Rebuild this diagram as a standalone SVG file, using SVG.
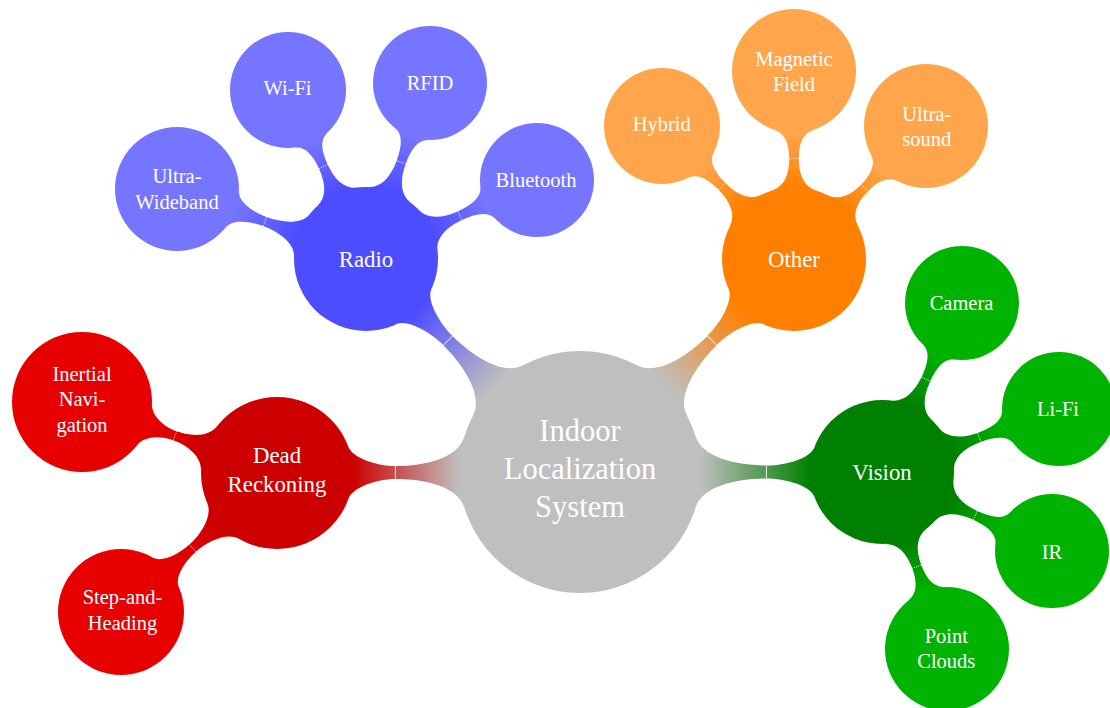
<svg xmlns="http://www.w3.org/2000/svg" width="1110" height="708" viewBox="0 0 1110 708">
<style>
text{font-family:"Liberation Serif","Times New Roman",serif;fill:#fff;text-anchor:middle}
.t0{font-size:30.5px}
.t1{font-size:22.8px}
.t2{font-size:20.5px}
.tk1{stroke:#fff;stroke-width:0.9;fill:none}
.tk2{stroke:#fff;stroke-width:0.7;fill:none;stroke-dasharray:1.3 0.9}
.root{fill:#bfbfbf}
.radio{fill:#4d4dff}.radioL{fill:#7575ff}
.other{fill:#ff8000}.otherL{fill:#ffa64d}
.vision{fill:#008000}.visionL{fill:#00b300}
.dr{fill:#cc0000}.drL{fill:#e60000}
</style>
<defs>
<linearGradient id="g1" gradientUnits="userSpaceOnUse" x1="121" y1="0" x2="229.9" y2="0"><stop offset="0" stop-color="#bfbfbf"/><stop offset="1" stop-color="#4d4dff"/></linearGradient>
<linearGradient id="g2" gradientUnits="userSpaceOnUse" x1="121" y1="0" x2="229.9" y2="0"><stop offset="0" stop-color="#bfbfbf"/><stop offset="1" stop-color="#ff8000"/></linearGradient>
<linearGradient id="g3" gradientUnits="userSpaceOnUse" x1="121" y1="0" x2="227" y2="0"><stop offset="0" stop-color="#bfbfbf"/><stop offset="1" stop-color="#cc0000"/></linearGradient>
<linearGradient id="g4" gradientUnits="userSpaceOnUse" x1="121" y1="0" x2="230" y2="0"><stop offset="0" stop-color="#bfbfbf"/><stop offset="1" stop-color="#008000"/></linearGradient>
<linearGradient id="g5" gradientUnits="userSpaceOnUse" x1="72" y1="0" x2="139.5" y2="0"><stop offset="0" stop-color="#4d4dff"/><stop offset="1" stop-color="#7575ff"/></linearGradient>
<linearGradient id="g6" gradientUnits="userSpaceOnUse" x1="72" y1="0" x2="128.1" y2="0"><stop offset="0" stop-color="#4d4dff"/><stop offset="1" stop-color="#7575ff"/></linearGradient>
<linearGradient id="g7" gradientUnits="userSpaceOnUse" x1="72" y1="0" x2="130.3" y2="0"><stop offset="0" stop-color="#4d4dff"/><stop offset="1" stop-color="#7575ff"/></linearGradient>
<linearGradient id="g8" gradientUnits="userSpaceOnUse" x1="72" y1="0" x2="131.4" y2="0"><stop offset="0" stop-color="#4d4dff"/><stop offset="1" stop-color="#7575ff"/></linearGradient>
<linearGradient id="g9" gradientUnits="userSpaceOnUse" x1="72" y1="0" x2="129.4" y2="0"><stop offset="0" stop-color="#ff8000"/><stop offset="1" stop-color="#ffa64d"/></linearGradient>
<linearGradient id="g10" gradientUnits="userSpaceOnUse" x1="72" y1="0" x2="126" y2="0"><stop offset="0" stop-color="#ff8000"/><stop offset="1" stop-color="#ffa64d"/></linearGradient>
<linearGradient id="g11" gradientUnits="userSpaceOnUse" x1="72" y1="0" x2="125.4" y2="0"><stop offset="0" stop-color="#ff8000"/><stop offset="1" stop-color="#ffa64d"/></linearGradient>
<linearGradient id="g12" gradientUnits="userSpaceOnUse" x1="72" y1="0" x2="130" y2="0"><stop offset="0" stop-color="#008000"/><stop offset="1" stop-color="#00b300"/></linearGradient>
<linearGradient id="g13" gradientUnits="userSpaceOnUse" x1="72" y1="0" x2="130.9" y2="0"><stop offset="0" stop-color="#008000"/><stop offset="1" stop-color="#00b300"/></linearGradient>
<linearGradient id="g14" gradientUnits="userSpaceOnUse" x1="72" y1="0" x2="130.5" y2="0"><stop offset="0" stop-color="#008000"/><stop offset="1" stop-color="#00b300"/></linearGradient>
<linearGradient id="g15" gradientUnits="userSpaceOnUse" x1="72" y1="0" x2="126.6" y2="0"><stop offset="0" stop-color="#008000"/><stop offset="1" stop-color="#00b300"/></linearGradient>
<linearGradient id="g16" gradientUnits="userSpaceOnUse" x1="76" y1="0" x2="137.5" y2="0"><stop offset="0" stop-color="#cc0000"/><stop offset="1" stop-color="#e60000"/></linearGradient>
<linearGradient id="g17" gradientUnits="userSpaceOnUse" x1="76" y1="0" x2="145.9" y2="0"><stop offset="0" stop-color="#cc0000"/><stop offset="1" stop-color="#e60000"/></linearGradient>
</defs>
<rect width="1110" height="708" fill="#fff"/>
<g id="connectors">
<g transform="translate(580 472) rotate(-135.13)"><path fill="url(#g1)" d="M115.7 35.4C122.1 14.4 156.3 6.5 186.3 6.5C204.3 6.5 230.1 13.3 234.2 24.6L234.2 -24.6C230.1 -13.3 204.3 -6.5 186.3 -6.5C156.3 -6.5 122.1 -14.4 115.7 -35.4Z"/><path class="tk1" d="M186.3 -6.5V6.5"/></g>
<g transform="translate(580 472) rotate(-44.87)"><path fill="url(#g2)" d="M115.7 35.4C122.1 14.4 156.3 6.5 186.3 6.5C204.3 6.5 230.1 13.3 234.2 24.6L234.2 -24.6C230.1 -13.3 204.3 -6.5 186.3 -6.5C156.3 -6.5 122.1 -14.4 115.7 -35.4Z"/><path class="tk1" d="M186.3 -6.5V6.5"/></g>
<g transform="translate(580 472) rotate(179.81)"><path fill="url(#g3)" d="M115.7 35.4C122.1 14.4 154.6 6.5 184.6 6.5C202.6 6.5 227.5 14.7 231.6 26L231.6 -26C227.5 -14.7 202.6 -6.5 184.6 -6.5C154.6 -6.5 122.1 -14.4 115.7 -35.4Z"/><path class="tk1" d="M184.6 -6.5V6.5"/></g>
<g transform="translate(580 472)"><path fill="url(#g4)" d="M115.7 35.4C122.1 14.4 156.4 6.5 186.4 6.5C204.4 6.5 230.2 13.3 234.3 24.6L234.3 -24.6C230.2 -13.3 204.4 -6.5 186.4 -6.5C156.4 -6.5 122.1 -14.4 115.7 -35.4Z"/><path class="tk1" d="M186.4 -6.5V6.5"/></g>
<g transform="translate(366 259) rotate(-159.68)"><path fill="url(#g5)" d="M68.5 22.2C72.2 10.8 89.8 4.8 107.8 4.8C123.8 4.8 139.4 9.7 142.5 19.2L142.5 -19.2C139.4 -9.7 123.8 -4.8 107.8 -4.8C89.8 -4.8 72.2 -10.8 68.5 -22.2Z"/><path class="tk2" d="M107.8 -4.8V4.8"/></g>
<g transform="translate(366 259) rotate(-114.78)"><path fill="url(#g6)" d="M68.5 22.2C72.2 10.8 83.7 4.8 101.7 4.8C117.7 4.8 127.8 8.4 130.9 17.9L130.9 -17.9C127.8 -8.4 117.7 -4.8 101.7 -4.8C83.7 -4.8 72.2 -10.8 68.5 -22.2Z"/><path class="tk2" d="M101.7 -4.8V4.8"/></g>
<g transform="translate(366 259) rotate(-70.02)"><path fill="url(#g7)" d="M68.5 22.2C72.2 10.8 84.9 4.8 102.9 4.8C118.9 4.8 130 8.1 133.1 17.6L133.1 -17.6C130 -8.1 118.9 -4.8 102.9 -4.8C84.9 -4.8 72.2 -10.8 68.5 -22.2Z"/><path class="tk2" d="M102.9 -4.8V4.8"/></g>
<g transform="translate(366 259) rotate(-24.79)"><path fill="url(#g8)" d="M68.5 22.2C72.2 10.8 85.5 4.8 103.5 4.8C119.5 4.8 131.1 8.1 134.2 17.6L134.2 -17.6C131.1 -8.1 119.5 -4.8 103.5 -4.8C85.5 -4.8 72.2 -10.8 68.5 -22.2Z"/><path class="tk2" d="M103.5 -4.8V4.8"/></g>
<g transform="translate(794 259) rotate(-134.78)"><path fill="url(#g9)" d="M68.5 22.2C72.2 10.8 84.4 4.8 102.4 4.8C118.4 4.8 129.1 8.4 132.2 17.9L132.2 -17.9C129.1 -8.4 118.4 -4.8 102.4 -4.8C84.4 -4.8 72.2 -10.8 68.5 -22.2Z"/><path class="tk2" d="M102.4 -4.8V4.8"/></g>
<g transform="translate(794 259) rotate(-90)"><path fill="url(#g10)" d="M68.5 22.2C72.2 10.8 82.6 4.8 100.6 4.8C116.6 4.8 125.9 9.7 129 19.2L129 -19.2C125.9 -9.7 116.6 -4.8 100.6 -4.8C82.6 -4.8 72.2 -10.8 68.5 -22.2Z"/><path class="tk2" d="M100.6 -4.8V4.8"/></g>
<g transform="translate(794 259) rotate(-45.22)"><path fill="url(#g11)" d="M68.5 22.2C72.2 10.8 82.3 4.8 100.3 4.8C116.3 4.8 125.3 9.7 128.4 19.2L128.4 -19.2C125.3 -9.7 116.3 -4.8 100.3 -4.8C82.3 -4.8 72.2 -10.8 68.5 -22.2Z"/><path class="tk2" d="M100.3 -4.8V4.8"/></g>
<g transform="translate(882 472) rotate(-64.67)"><path fill="url(#g12)" d="M68.5 22.2C72.2 10.8 84.7 4.8 102.7 4.8C118.7 4.8 129.7 8.1 132.8 17.6L132.8 -17.6C129.7 -8.1 118.7 -4.8 102.7 -4.8C84.7 -4.8 72.2 -10.8 68.5 -22.2Z"/><path class="tk2" d="M102.7 -4.8V4.8"/></g>
<g transform="translate(882 472) rotate(-19.59)"><path fill="url(#g13)" d="M68.5 22.2C72.2 10.8 85.2 4.8 103.2 4.8C119.2 4.8 130.6 8.1 133.7 17.6L133.7 -17.6C130.6 -8.1 119.2 -4.8 103.2 -4.8C85.2 -4.8 72.2 -10.8 68.5 -22.2Z"/><path class="tk2" d="M103.2 -4.8V4.8"/></g>
<g transform="translate(882 472) rotate(24.92)"><path fill="url(#g14)" d="M68.5 22.2C72.2 10.8 85 4.8 103 4.8C119 4.8 130.2 8.1 133.3 17.6L133.3 -17.6C130.2 -8.1 119 -4.8 103 -4.8C85 -4.8 72.2 -10.8 68.5 -22.2Z"/><path class="tk2" d="M103 -4.8V4.8"/></g>
<g transform="translate(882 472) rotate(69.83)"><path fill="url(#g15)" d="M68.5 22.2C72.2 10.8 82.9 4.8 100.9 4.8C116.9 4.8 126.5 9.7 129.6 19.2L129.6 -19.2C126.5 -9.7 116.9 -4.8 100.9 -4.8C82.9 -4.8 72.2 -10.8 68.5 -22.2Z"/><path class="tk2" d="M100.9 -4.8V4.8"/></g>
<g transform="translate(277 473) rotate(-159.99)"><path fill="url(#g16)" d="M72.3 23.5C76 12.1 90.6 4.8 108.6 4.8C124.6 4.8 137.8 12.1 140.9 21.6L140.9 -21.6C137.8 -12.1 124.6 -4.8 108.6 -4.8C90.6 -4.8 76 -12.1 72.3 -23.5Z"/><path class="tk2" d="M108.6 -4.8V4.8"/></g>
<g transform="translate(277 473) rotate(138.3)"><path fill="url(#g17)" d="M72.3 23.5C76 12.1 95 4.8 113 4.8C129 4.8 145.9 10 149 19.5L149 -19.5C145.9 -10 129 -4.8 113 -4.8C95 -4.8 76 -12.1 72.3 -23.5Z"/><path class="tk2" d="M113 -4.8V4.8"/></g>
</g>
<g id="root"><circle class="root" cx="580" cy="472" r="121"/><text class="t0" x="580" y="441">Indoor</text><text class="t0" x="580" y="479">Localization</text><text class="t0" x="580" y="517">System</text></g>
<g id="radio"><circle class="radio" cx="366" cy="259" r="72"/><text class="t1" x="366" y="267">Radio</text></g>
<g id="other"><circle class="other" cx="794" cy="259" r="72"/><text class="t1" x="794" y="267">Other</text></g>
<g id="dead-reckoning"><circle class="dr" cx="277" cy="473" r="76"/><text class="t1" x="277" y="463">Dead</text><text class="t1" x="277" y="492">Reckoning</text></g>
<g id="vision"><circle class="vision" cx="882" cy="472" r="72"/><text class="t1" x="882" y="480">Vision</text></g>
<g id="uwb"><circle class="radioL" cx="177" cy="189" r="62"/><text class="t2" x="177" y="183">Ultra-</text><text class="t2" x="177" y="209">Wideband</text></g>
<g id="wifi"><circle class="radioL" cx="288" cy="90" r="58"/><text class="t2" x="287.5" y="95">Wi-Fi</text></g>
<g id="rfid"><circle class="radioL" cx="430" cy="83" r="57"/><text class="t2" x="430" y="90">RFID</text></g>
<g id="bluetooth"><circle class="radioL" cx="537" cy="180" r="57"/><text class="t2" x="536" y="187">Bluetooth</text></g>
<g id="hybrid"><circle class="otherL" cx="662" cy="126" r="58"/><text class="t2" x="661.7" y="131">Hybrid</text></g>
<g id="magnetic-field"><circle class="otherL" cx="794" cy="71" r="62"/><text class="t2" x="794" y="66">Magnetic</text><text class="t2" x="794" y="91">Field</text></g>
<g id="ultrasound"><circle class="otherL" cx="926" cy="126" r="62"/><text class="t2" x="926.7" y="121">Ultra-</text><text class="t2" x="926.7" y="146">sound</text></g>
<g id="camera"><circle class="visionL" cx="962" cy="303" r="57"/><text class="t2" x="961.5" y="310">Camera</text></g>
<g id="lifi"><circle class="visionL" cx="1059" cy="409" r="57"/><text class="t2" x="1058" y="416">Li-Fi</text></g>
<g id="ir"><circle class="visionL" cx="1052" cy="551" r="57"/><text class="t2" x="1052" y="559">IR</text></g>
<g id="point-clouds"><circle class="visionL" cx="947" cy="649" r="62"/><text class="t2" x="946.3" y="643">Point</text><text class="t2" x="946.3" y="668">Clouds</text></g>
<g id="inertial-navigation"><circle class="drL" cx="82" cy="402" r="70"/><text class="t2" x="82" y="381">Inertial</text><text class="t2" x="82" y="406">Navi-</text><text class="t2" x="82" y="432">gation</text></g>
<g id="step-and-heading"><circle class="drL" cx="121" cy="612" r="63"/><text class="t2" x="122.5" y="604">Step-and-</text><text class="t2" x="122.5" y="630">Heading</text></g>
</svg>
